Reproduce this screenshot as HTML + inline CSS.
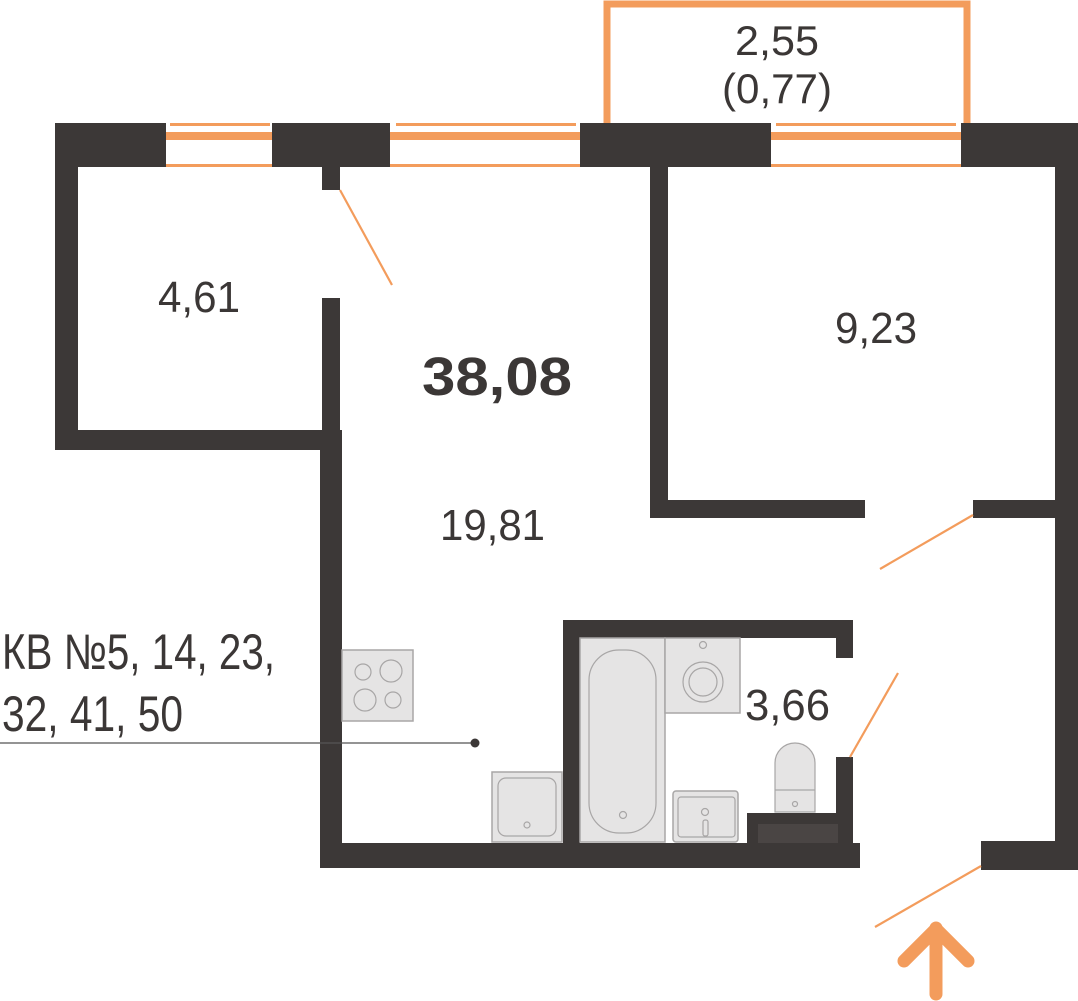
<!DOCTYPE html>
<html><head><meta charset="utf-8"><style>
html,body{margin:0;padding:0;background:#fff;width:1078px;height:1001px;overflow:hidden}
svg{display:block}
text{font-family:"Liberation Sans Narrow","Liberation Sans",sans-serif;fill:#3b3736}
</style></head><body>
<svg width="1078" height="1001" viewBox="0 0 1078 1001" xmlns="http://www.w3.org/2000/svg">
<!-- balcony -->
<path d="M607,123 V4 H967 V123" fill="none" stroke="#f39c5c" stroke-width="7"/>
<!-- windows -->
<g fill="#f39c5c">
<rect x="170" y="123" width="100" height="3"/><rect x="166" y="132" width="106" height="8"/><rect x="166" y="164" width="106" height="3"/>
<rect x="396" y="123" width="180" height="3"/><rect x="390" y="132" width="190" height="8"/><rect x="390" y="164" width="190" height="3"/>
<rect x="776" y="123" width="180" height="3"/><rect x="771" y="132" width="190" height="8"/><rect x="771" y="164" width="190" height="3"/>
</g>
<g fill="#3c3837">
<rect x="55" y="123" width="111" height="44"/>
<rect x="272" y="123" width="118" height="44"/>
<rect x="580" y="123" width="191" height="44"/>
<rect x="961" y="123" width="117" height="44"/>
<rect x="55" y="123" width="23" height="327"/>
<rect x="55" y="430" width="287" height="20"/>
<rect x="322" y="167" width="18" height="23"/>
<rect x="322" y="298" width="18" height="132"/>
<rect x="320" y="430" width="22" height="438"/>
<rect x="320" y="843" width="540" height="25"/>
<rect x="650" y="167" width="18" height="351"/>
<rect x="650" y="500" width="215" height="18"/>
<rect x="973" y="500" width="105" height="18"/>
<rect x="1055" y="123" width="23" height="720"/>
<rect x="981" y="841" width="97" height="29"/>
<rect x="563" y="620" width="17" height="223"/>
<rect x="563" y="620" width="290" height="18"/>
<rect x="836" y="620" width="17" height="38"/>
<rect x="836" y="757" width="17" height="86"/>
<rect x="747" y="813" width="106" height="30"/>
</g>
<rect x="758" y="824" width="80" height="19" fill="#4a4544"/>
<g stroke="#f39c5c" stroke-width="2.2" fill="none">
<line x1="340" y1="190" x2="392" y2="285"/>
<line x1="973" y1="515" x2="880" y2="569"/>
<line x1="898" y1="673" x2="850" y2="757"/>
<line x1="981" y1="866" x2="875" y2="927"/>
</g>
<g stroke="#f39c5c" stroke-width="13" stroke-linecap="round" stroke-linejoin="round" fill="none">
<line x1="936" y1="928" x2="936" y2="994"/>
<polyline points="904,961 936,929 968,961"/>
</g>
<g fill="#e5e4e4" stroke="#a8a6a6" stroke-width="1.5">
<rect x="342" y="650" width="71" height="71"/>
<rect x="492" y="772" width="70" height="70"/>
<rect x="580" y="638" width="85" height="204"/>
<rect x="665" y="638" width="75" height="75"/>
<rect x="673" y="791" width="65" height="51" rx="3"/>
</g>
<g fill="none" stroke="#a8a6a6" stroke-width="1.2">
<circle cx="363" cy="672" r="8"/><circle cx="391" cy="671" r="11"/>
<circle cx="365" cy="700" r="11"/><circle cx="393" cy="700" r="8"/>
<rect x="498" y="778" width="58" height="58" rx="8"/><circle cx="527" cy="825" r="3"/>
<rect x="589" y="650" width="67" height="183" rx="30"/><circle cx="623" cy="815" r="3.5"/>
<circle cx="703" cy="682" r="20"/><circle cx="703" cy="682" r="14"/><circle cx="703" cy="645" r="3.5"/>
<rect x="678" y="797" width="57" height="40" rx="3"/><circle cx="705" cy="812" r="3.5"/><rect x="703" y="820" width="5" height="16" rx="2"/>
</g>
<g fill="#e5e4e4" stroke="#a8a6a6" stroke-width="1.2">
<path d="M775,812 V763 a20,20 0 0 1 40,0 V812 Z"/>
<path d="M775,790 H815"/>
<circle cx="795" cy="804" r="2.5" fill="none"/>
</g>
<line x1="0" y1="743" x2="475" y2="743" stroke="#555" stroke-width="1.3"/>
<circle cx="475" cy="743" r="4.5" fill="#3c3837"/>
<text x="777" y="55" font-size="42" text-anchor="middle" textLength="84" lengthAdjust="spacingAndGlyphs">2,55</text>
<text x="777" y="103" font-size="42" text-anchor="middle" textLength="110" lengthAdjust="spacingAndGlyphs">(0,77)</text>
<text x="158" y="312" font-size="44" textLength="82" lengthAdjust="spacingAndGlyphs">4,61</text>
<text x="422" y="395" font-size="54" font-weight="bold" textLength="150" lengthAdjust="spacingAndGlyphs">38,08</text>
<text x="835" y="343" font-size="44" textLength="82" lengthAdjust="spacingAndGlyphs">9,23</text>
<text x="440" y="540" font-size="44" textLength="105" lengthAdjust="spacingAndGlyphs">19,81</text>
<text x="745" y="720" font-size="44" textLength="85" lengthAdjust="spacingAndGlyphs">3,66</text>
<text x="2" y="669" font-size="50" textLength="273" lengthAdjust="spacingAndGlyphs">КВ №5, 14, 23,</text>
<text x="2" y="731" font-size="50" textLength="181" lengthAdjust="spacingAndGlyphs">32, 41, 50</text>
</svg>
</body></html>
